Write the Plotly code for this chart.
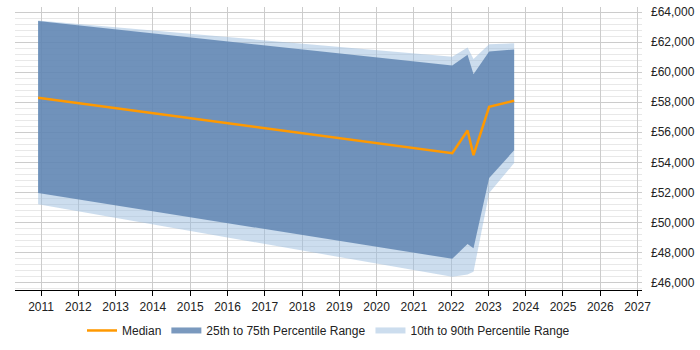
import plotly.graph_objects as go

# Data (decimal years)
years = [2010.92, 2022.03, 2022.44, 2022.6, 2023.02, 2023.69]
p10 = [51200, 46370, 46520, 46700, 51960, 53950]
p25 = [51950, 47570, 48560, 48270, 52950, 54800]
median = [58300, 54610, 56120, 54480, 57700, 58100]
p75 = [63420, 60450, 61170, 59860, 61390, 61520]
p90 = [63450, 61030, 61650, 60880, 61870, 61930]

tick_years = list(range(2011, 2028))
y_ticks = list(range(46000, 64001, 2000))
y_labels = [f"£{v:,}" for v in y_ticks]

light = "rgba(153,187,221,0.5)"
dark = "rgba(89,127,174,0.8)"
orange = "#FF9900"

fig = go.Figure()
fig.add_trace(go.Scatter(x=years, y=p10, mode="lines", line=dict(width=0, color=light),
                         showlegend=False, hoverinfo="skip"))
fig.add_trace(go.Scatter(x=years, y=p90, mode="none", fill="tonexty", fillcolor=light,
                         name="10th to 90th Percentile Range", legendrank=3))
fig.add_trace(go.Scatter(x=years, y=p25, mode="lines", line=dict(width=0, color=dark),
                         showlegend=False, hoverinfo="skip"))
fig.add_trace(go.Scatter(x=years, y=p75, mode="none", fill="tonexty", fillcolor=dark,
                         name="25th to 75th Percentile Range", legendrank=2))
fig.add_trace(go.Scatter(x=years, y=median, mode="lines", line=dict(width=2.5, color=orange),
                         name="Median", legendrank=1))

fig.update_layout(
    width=700, height=350,
    margin=dict(l=15, r=58, t=5, b=58),
    paper_bgcolor="white", plot_bgcolor="white",
    font=dict(family="Liberation Sans, Arial, sans-serif", size=12, color="#222"),
    legend=dict(orientation="h", x=0.5, xanchor="center", y=-0.143, yanchor="middle",
                font=dict(size=12, color="#222"), traceorder="normal"),
    showlegend=True,
)
fig.update_xaxes(
    range=[2010.3, 2027.12], tickmode="array", tickvals=tick_years,
    ticktext=[str(y) for y in tick_years],
    showgrid=True, gridcolor="#cccccc", gridwidth=1,
    showline=True, linecolor="black", linewidth=1.2,
    ticks="outside", ticklen=5, tickcolor="black", zeroline=False,
)
fig.update_yaxes(
    range=[45490, 64350], side="right", tickmode="array", tickvals=y_ticks,
    ticktext=y_labels, showgrid=True, gridcolor="#cccccc", gridwidth=1,
    minor=dict(dtick=400, tick0=46000, showgrid=True, gridcolor="#e8e8e8", gridwidth=1),
    showline=False, zeroline=False, ticks="", ticklabelstandoff=8,
)
fig.write_html("out.html")
